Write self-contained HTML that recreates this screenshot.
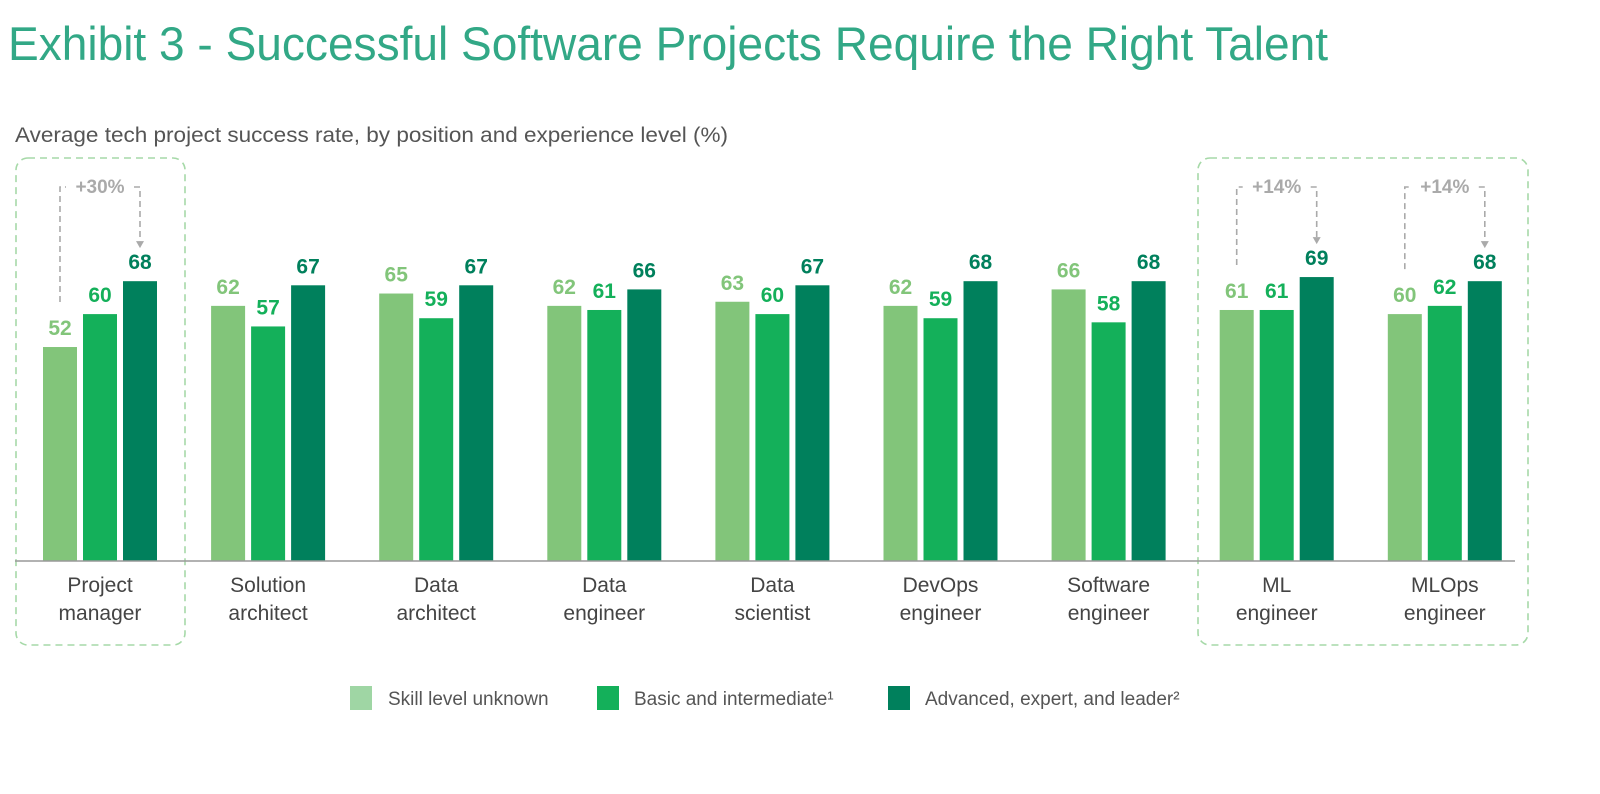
<!DOCTYPE html>
<html><head><meta charset="utf-8"><style>
html,body{margin:0;padding:0;background:#fff;}
svg{display:block;font-family:"Liberation Sans",sans-serif;}
</style></head><body>
<svg id="chart" width="1600" height="794" viewBox="0 0 1600 794" xmlns="http://www.w3.org/2000/svg">
<text x="8" y="60" font-size="47" fill="#32a886" textLength="1320" lengthAdjust="spacingAndGlyphs">Exhibit 3 - Successful Software Projects Require the Right Talent</text>
<text x="15" y="142" font-size="21" fill="#555" textLength="713" lengthAdjust="spacingAndGlyphs">Average tech project success rate, by position and experience level (%)</text>
<rect x="16" y="158" width="169" height="487" rx="12" fill="none" stroke="#a6d9a8" stroke-width="1.6" stroke-dasharray="7,5"/>
<rect x="1198" y="158" width="330" height="487" rx="12" fill="none" stroke="#a6d9a8" stroke-width="1.6" stroke-dasharray="7,5"/>
<g id="bars"></g>
<line x1="15" y1="561" x2="1515" y2="561" stroke="#999" stroke-width="1.5"/>
<g id="legend">
<rect x="350" y="686" width="22" height="24" fill="#9fd6a4"/>
<text x="388" y="705" font-size="19" fill="#555">Skill level unknown</text>
<rect x="597" y="686" width="22" height="24" fill="#14b05a"/>
<text x="634" y="705" font-size="19" fill="#555">Basic and intermediate¹</text>
<rect x="888" y="686" width="22" height="24" fill="#00805c"/>
<text x="925" y="705" font-size="19" fill="#555">Advanced, expert, and leader²</text>
</g>
</svg>
<script>
const categories = [["Project","manager"],["Solution","architect"],["Data","architect"],["Data","engineer"],["Data","scientist"],["DevOps","engineer"],["Software","engineer"],["ML","engineer"],["MLOps","engineer"]];
const unknownVals = [52,62,65,62,63,62,66,61,60];
const basicVals = [60,57,59,61,60,59,58,61,62];
const advancedVals = [68,67,67,66,67,68,68,69,68];
const annotations = [{cat:0,label:"+30%"},{cat:7,label:"+14%"},{cat:8,label:"+14%"}];

const NS = "http://www.w3.org/2000/svg";
const g = document.getElementById("bars");
const svg = document.getElementById("chart");
const base = 561, scale = 4.115;
function yScale(v){ return base - v*scale; }
function groupX(i){ return 100 + i*168.1; }
const series = [
  {vals:unknownVals, fill:"#82c57a", txt:"#82c57a", name:"unknown"},
  {vals:basicVals, fill:"#14b05a", txt:"#14b05a", name:"basic"},
  {vals:advancedVals, fill:"#00805c", txt:"#00805c", name:"advanced"}
];
function mk(tag, attrs){ const e=document.createElementNS(NS,tag); for(const k in attrs) e.setAttribute(k,attrs[k]); return e; }
categories.forEach((c,i)=>{
  const cx = groupX(i);
  series.forEach((s,j)=>{
    const x = cx - 57 + j*40;
    const v = s.vals[i];
    const r = mk("rect",{x:x,y:yScale(v),width:34,height:base-yScale(v),fill:s.fill});
    
    
    g.appendChild(r);
    const t = mk("text",{x:x+17,y:yScale(v)-12,"font-size":21,"font-weight":"bold","text-anchor":"middle",fill:s.txt});
    t.textContent = v;
    
    
    g.appendChild(t);
  });
  c.forEach((line,k)=>{
    const t = mk("text",{x:cx,y:592+k*28,"font-size":21,"text-anchor":"middle",fill:"#444"});
    t.textContent = line;
    
    
    g.appendChild(t);
  });
});
annotations.forEach((a,n)=>{
  const cx = groupX(a.cat);
  const xl = cx - 40, xr = cx + 40;
  const startY = yScale(unknownVals[a.cat]) - 45;
  const endY = yScale(advancedVals[a.cat]) - 40;
  const p = mk("path",{d:`M${xl},${startY} V187 H${xl+6} M${xr-6},187 H${xr} V${endY}`,fill:"none",stroke:"#aaa","stroke-width":1.6,"stroke-dasharray":"6,4"});
  
  
  g.appendChild(p);
  const ar = mk("path",{d:`M${xr-4},${endY} L${xr+4},${endY} L${xr},${endY+7} Z`,fill:"#aaa"});
  
  
  g.appendChild(ar);
  const t = mk("text",{x:cx,y:193,"font-size":19,"font-weight":"bold","text-anchor":"middle",fill:"#aaa"});
  t.textContent = a.label;
  
  
  g.appendChild(t);
});
</script>
</body></html>
